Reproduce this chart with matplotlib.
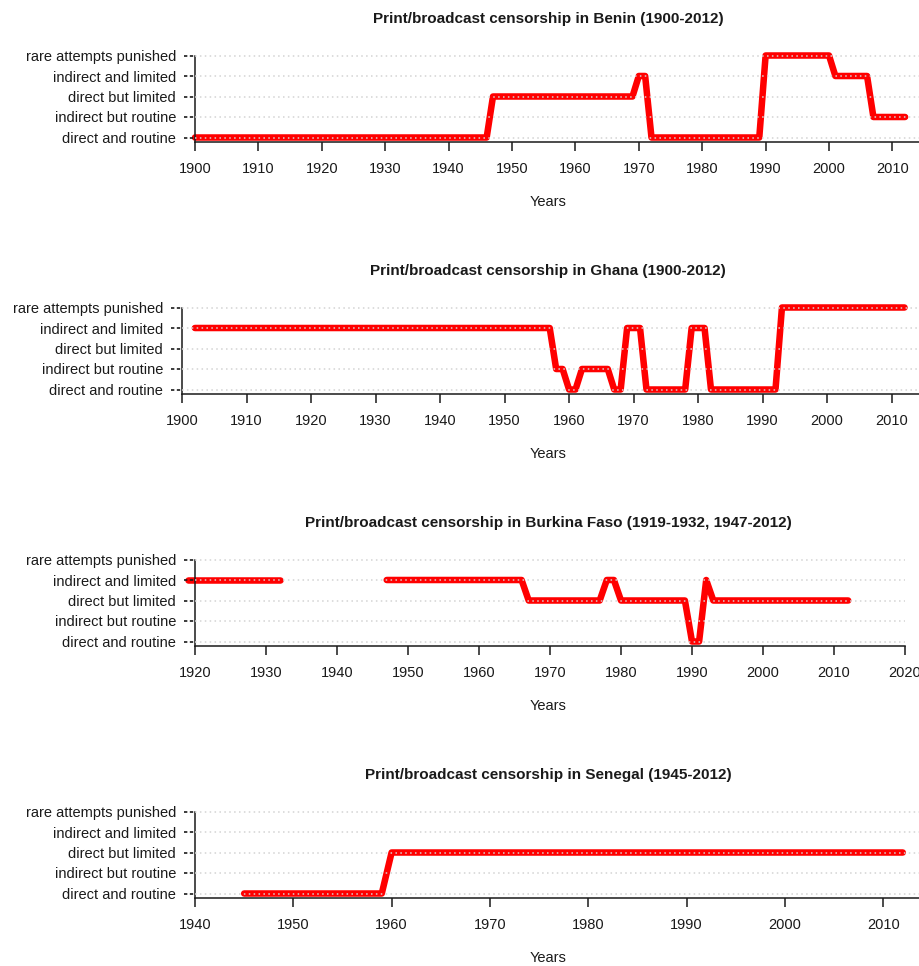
import numpy as np
import matplotlib

matplotlib.use("Agg")
import matplotlib.pyplot as plt
from matplotlib.transforms import blended_transform_factory

plt.rcParams["font.family"] = ["Liberation Sans", "DejaVu Sans"]

# censorship levels, bottom to top
LEVELS = [
    "direct and routine",
    "indirect but routine",
    "direct but limited",
    "indirect and limited",
    "rare attempts punished",
]

# yearly values (only the change points are listed)
BENIN_YEARS = [1900, 1946, 1947, 1969, 1970, 1971, 1972, 1989, 1990, 2000, 2001, 2006, 2007, 2012]
BENIN_LEVELS = [0, 0, 2, 2, 3, 3, 0, 0, 4, 4, 3, 3, 1, 1]

GHANA_YEARS = [1902, 1957, 1958, 1959, 1960, 1961, 1962, 1966, 1967, 1968, 1969, 1971,
               1972, 1978, 1979, 1981, 1982, 1992, 1993, 2012]
GHANA_LEVELS = [3, 3, 1, 1, 0, 0, 1, 1, 0, 0, 3, 3, 0, 0, 3, 3, 0, 0, 4, 4]

# Burkina Faso has a gap 1933-1946
BURKINA_YEARS_A = [1919, 1932]
BURKINA_LEVELS_A = [3, 3]
BURKINA_YEARS_B = [1947, 1966, 1967, 1977, 1978, 1979, 1980, 1989, 1990, 1991, 1992, 1993, 2012]
BURKINA_LEVELS_B = [3, 3, 2, 2, 3, 3, 2, 2, 0, 0, 3, 2, 2]

SENEGAL_YEARS = [1945, 1959, 1960, 2012]
SENEGAL_LEVELS = [0, 0, 2, 2]

W, H = 920, 966
PX_LEVEL = 20.5


def main():
    panels = [
        {
            "title": "Print/broadcast censorship in Benin (1900-2012)",
            "series": [(BENIN_YEARS, BENIN_LEVELS)],
            "xlim": (1900, 2014.35),
            "xticks": np.arange(1900, 2011, 10),
            "left": 195,
            "right": 920,
        },
        {
            "title": "Print/broadcast censorship in Ghana (1900-2012)",
            "series": [(GHANA_YEARS, GHANA_LEVELS)],
            "xlim": (1900, 2014.4),
            "xticks": np.arange(1900, 2011, 10),
            "left": 182,
            "right": 920,
        },
        {
            "title": "Print/broadcast censorship in Burkina Faso (1919-1932, 1947-2012)",
            "series": [(BURKINA_YEARS_A, BURKINA_LEVELS_A), (BURKINA_YEARS_B, BURKINA_LEVELS_B)],
            "xlim": (1920, 2020),
            "xticks": np.arange(1920, 2021, 10),
            "left": 195,
            "right": 905,
        },
        {
            "title": "Print/broadcast censorship in Senegal (1945-2012)",
            "series": [(SENEGAL_YEARS, SENEGAL_LEVELS)],
            "xlim": (1940, 2013.75),
            "xticks": np.arange(1940, 2011, 10),
            "left": 195,
            "right": 920,
        },
    ]

    fig = plt.figure(figsize=(W / 100, H / 100), dpi=100)
    ink = "#1a1a1a"

    for i, p in enumerate(panels):
        level0 = 137.5 + 252 * i
        bottom_px = level0 + 0.2 * PX_LEVEL
        height_px = 4.5 * PX_LEVEL
        width_px = p["right"] - p["left"]
        ax = fig.add_axes([p["left"] / W, 1 - bottom_px / H, width_px / W, height_px / H])

        for years, levels in p["series"]:
            ax.plot(years, levels, color="#ff0000", lw=4.7, solid_capstyle="round",
                    solid_joinstyle="round", clip_on=False, zorder=2)

        ax.set_xlim(*p["xlim"])
        ax.set_ylim(-0.2, 4.3)
        ax.set_xticks(p["xticks"])
        ax.set_yticks(range(len(LEVELS)))
        ax.set_yticklabels(LEVELS)
        ax.tick_params(axis="y", length=0, pad=13.7, labelsize=10.5, labelcolor=ink)
        ax.tick_params(axis="x", length=6.5, width=1.1, pad=8.5, labelsize=10.5,
                       color=ink, labelcolor=ink)

        for side in ("top", "right"):
            ax.spines[side].set_visible(False)
        ax.spines["left"].set_bounds(-0.2, 4)
        for side in ("left", "bottom"):
            ax.spines[side].set_color(ink)
            ax.spines[side].set_linewidth(1.1)

        ax.yaxis.grid(True, color="#d3d3d3", lw=1.1, ls=(0, (1, 2.2)))
        ax.set_axisbelow(False)

        # dashed y ticks
        trans = blended_transform_factory(ax.transAxes, ax.transData)
        for lvl in range(len(LEVELS)):
            ax.plot([-11 / width_px, 0], [lvl, lvl], transform=trans, color=ink,
                    lw=1.2, ls=(0, (2, 1.5)), clip_on=False)

        fig.text(548 / W, 1 - (level0 - 118) / H, p["title"], ha="center", va="center",
                 fontsize=11, fontweight="bold", color=ink)
        fig.text(548 / W, 1 - (level0 + 65) / H, "Years", ha="center", va="center",
                 fontsize=10.5, color=ink)

    fig.savefig("out.png", dpi=100)


if __name__ == "__main__":
    main()
